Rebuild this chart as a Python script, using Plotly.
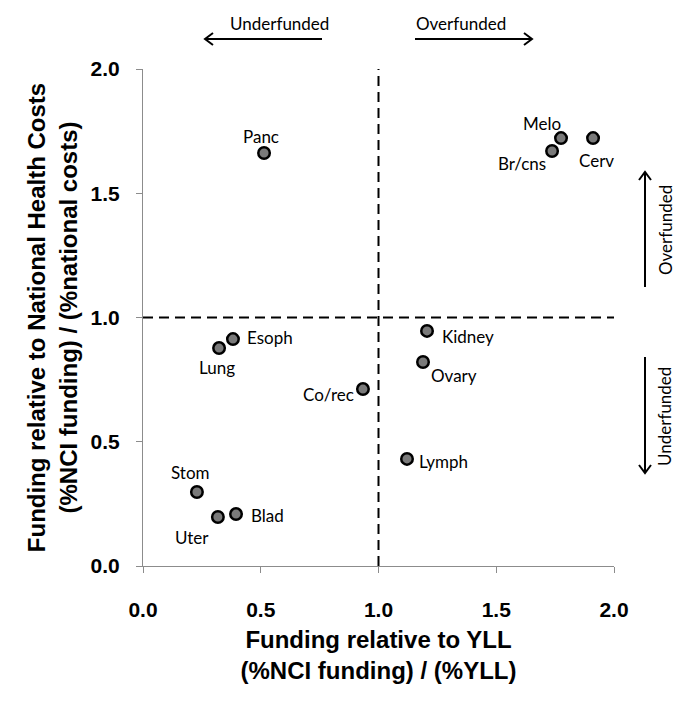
import plotly.graph_objects as go

# ---- data ----
cancers = ["Panc", "Melo", "Br/cns", "Cerv", "Kidney", "Ovary", "Esoph",
           "Lung", "Co/rec", "Lymph", "Stom", "Blad", "Uter"]
funding_vs_yll = [0.514, 1.775, 1.737, 1.911, 1.206, 1.189, 0.382,
                  0.323, 0.934, 1.121, 0.229, 0.395, 0.318]
funding_vs_costs = [1.662, 1.722, 1.670, 1.722, 0.946, 0.821, 0.913,
                    0.877, 0.712, 0.431, 0.298, 0.209, 0.197]
tick_vals = [0.0, 0.5, 1.0, 1.5, 2.0]
tick_text = ["0.0", "0.5", "1.0", "1.5", "2.0"]

# ---- label placement (pixel offsets from the marker, anchor) ----
label_pos = {
    "Panc": (-3, -16, "center"), "Melo": (-19, -15, "center"),
    "Br/cns": (-30, 12, "center"), "Cerv": (3, 22, "center"),
    "Kidney": (13, 6, "left"), "Ovary": (6, 14, "left"),
    "Esoph": (12, -2, "left"), "Lung": (-2, 19, "center"),
    "Co/rec": (-7, 5, "right"), "Lymph": (10, 3, "left"),
    "Stom": (-6, -19, "center"), "Blad": (13, 1, "left"),
    "Uter": (-26, 20, "center"),
}

W, H = 685, 703
L, T, PW, PH = 143, 69, 471, 497


def px(xp, yp):
    return (xp - L) / PW, (T + PH - yp) / PH


fig = go.Figure()
fig.add_trace(go.Scatter(
    x=funding_vs_yll, y=funding_vs_costs, mode="markers",
    marker=dict(size=11.5, color="#7a7a7a", line=dict(color="black", width=2.5)),
    hoverinfo="text", text=cancers, showlegend=False, cliponaxis=False))

annotations = []
label_font = dict(family="Lato, 'Open Sans', sans-serif", size=17, color="black")
for name, xv, yv in zip(cancers, funding_vs_yll, funding_vs_costs):
    dx, dy, anc = label_pos[name]
    annotations.append(dict(x=xv, y=yv, xref="x", yref="y", text=name,
                            showarrow=False, xanchor=anc, yanchor="middle",
                            xshift=dx, yshift=-dy, font=label_font))

# direction texts
for (xp, yp, txt, ang) in [(279, 23, "Underfunded", 0), (461, 23, "Overfunded", 0),
                           (665, 230, "Overfunded", -90), (665, 417, "Underfunded", -90)]:
    xx, yy = px(xp, yp)
    annotations.append(dict(x=xx, y=yy, xref="paper", yref="paper", text=txt,
                            showarrow=False, xanchor="center", yanchor="middle",
                            textangle=ang, font=label_font))

shapes = []
# dashed reference lines
shapes.append(dict(type="line", xref="x", yref="y", x0=1, x1=1, y0=0, y1=2,
                   line=dict(color="black", width=2, dash="10px,6px")))
shapes.append(dict(type="line", xref="x", yref="y", x0=0, x1=2, y0=1, y1=1,
                   line=dict(color="black", width=2, dash="10px,6px")))


def arrow(tail, head, horizontal):
    x0, y0 = px(*tail)
    x1, y1 = px(*head)
    shapes.append(dict(type="line", xref="paper", yref="paper", x0=x0, y0=y0,
                       x1=x1, y1=y1, line=dict(color="black", width=2)))
    hx, hy = head
    if horizontal:
        s = 1 if tail[0] > hx else -1
        pts = [(hx + 8 * s, hy - 6), (hx, hy), (hx + 8 * s, hy + 6)]
    else:
        s = 1 if tail[1] > hy else -1
        pts = [(hx - 6, hy + 8 * s), (hx, hy), (hx + 6, hy + 8 * s)]
    pp = [px(a, b) for a, b in pts]
    path = "M {} {} L {} {} L {} {}".format(pp[0][0], pp[0][1], pp[1][0], pp[1][1],
                                            pp[2][0], pp[2][1])
    shapes.append(dict(type="path", xref="paper", yref="paper", path=path,
                       line=dict(color="black", width=2)))


arrow((322, 39), (205, 39), True)
arrow((415, 39), (532, 39), True)
arrow((645, 287), (645, 172), False)
arrow((645, 357), (645, 473), False)

tick_font = dict(family="Liberation Sans, Arial, sans-serif", size=21, color="black")
title_font = dict(family="Liberation Sans, Arial, sans-serif", size=24, color="black")

fig.update_layout(
    width=W, height=H,
    margin=dict(l=L, r=W - L - PW, t=T, b=H - T - PH, autoexpand=False),
    paper_bgcolor="white", plot_bgcolor="white",
    annotations=annotations, shapes=shapes,
    xaxis=dict(range=[0, 2], tickvals=tick_vals, ticktext=["<b>%s</b>" % t for t in tick_text],
               showgrid=False, zeroline=False, showline=True, linecolor="#8c8c8c",
               linewidth=1, ticks="outside", ticklen=6, tickcolor="#8c8c8c",
               tickfont=tick_font, ticklabelstandoff=19, automargin=False,
               title=dict(text="<b>Funding relative to YLL<br>(%NCI funding) / (%YLL)</b>",
                          font=title_font, standoff=10)),
    yaxis=dict(range=[0, 2], tickvals=tick_vals, ticktext=["<b>%s</b>" % t for t in tick_text],
               showgrid=False, zeroline=False, showline=True, linecolor="#8c8c8c",
               linewidth=1, ticks="outside", ticklen=6, tickcolor="#8c8c8c",
               tickfont=tick_font, ticklabelstandoff=12, automargin=False,
               title=dict(text="<b>Funding relative to National Health Costs<br>(%NCI funding) / (%national costs)</b>",
                          font=title_font, standoff=6)),
)

fig.write_html("out.html", config={"displayModeBar": False},
               post_script="document.body.style.margin='0';document.body.style.overflow='hidden';")
